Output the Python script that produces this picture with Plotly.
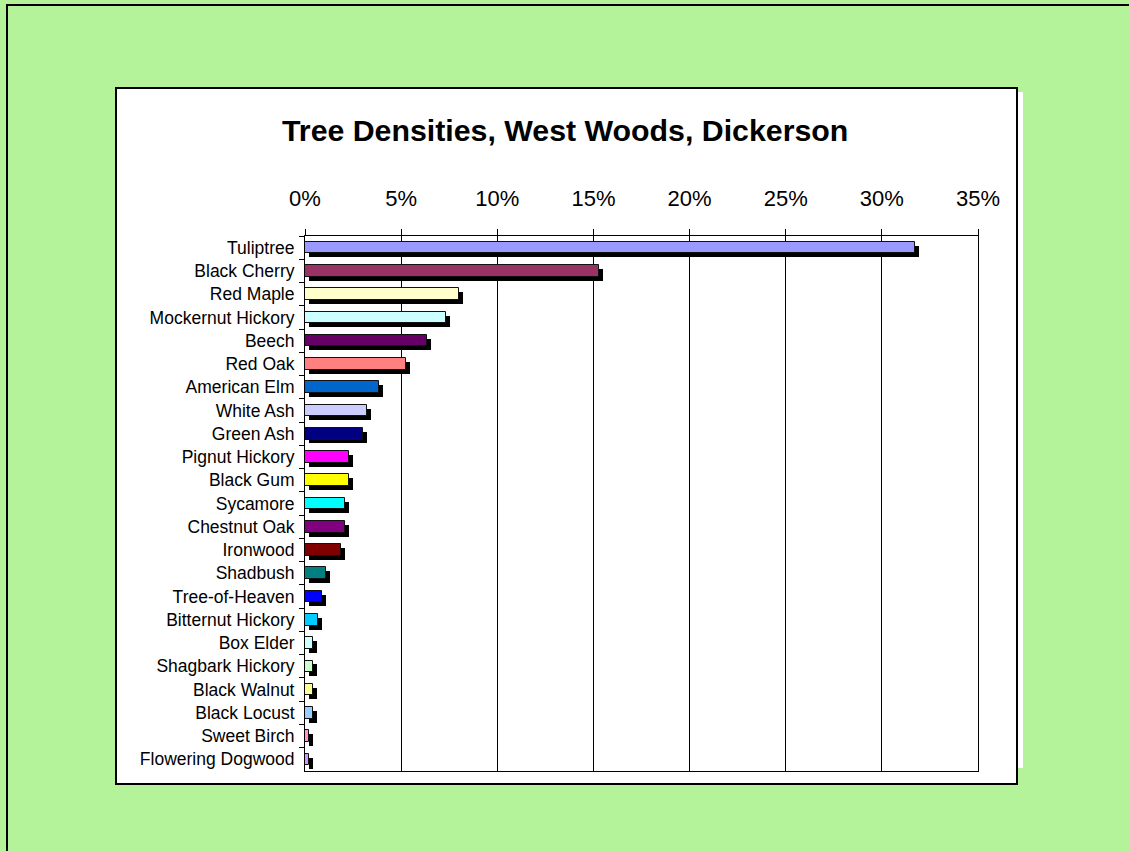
import plotly.graph_objects as go

# Species (top to bottom) and their share of all stems, in percent
species = [
    "Tuliptree", "Black Cherry", "Red Maple", "Mockernut Hickory", "Beech",
    "Red Oak", "American Elm", "White Ash", "Green Ash", "Pignut Hickory",
    "Black Gum", "Sycamore", "Chestnut Oak", "Ironwood", "Shadbush",
    "Tree-of-Heaven", "Bitternut Hickory", "Box Elder", "Shagbark Hickory",
    "Black Walnut", "Black Locust", "Sweet Birch", "Flowering Dogwood",
]
density_pct = [
    31.7, 15.3, 8.0, 7.32, 6.35,
    5.25, 3.87, 3.2, 3.0, 2.3,
    2.3, 2.06, 2.06, 1.85, 1.1,
    0.88, 0.66, 0.43, 0.43,
    0.43, 0.43, 0.2, 0.2,
]
bar_colors = [
    "#9999FF", "#993366", "#FFFFCC", "#CCFFFF", "#660066",
    "#FF8080", "#0066CC", "#CCCCFF", "#000080", "#FF00FF",
    "#FFFF00", "#00FFFF", "#800080", "#800000", "#008080",
    "#0000FF", "#00CCFF", "#CCFFFF", "#CCFFCC",
    "#FFFF99", "#99CCFF", "#FF99CC", "#CC99FF",
]
x_ticks = [0, 5, 10, 15, 20, 25, 30, 35]
x_tick_labels = ["0%", "5%", "10%", "15%", "20%", "25%", "30%", "35%"]

W, H = 1130, 852
PL, PR, PT, PB = 305, 978, 236, 771  # plot area in pixels


def px_x(px):
    return (px - PL) / (PR - PL)


def px_y(py):
    return (PB - py) / (PB - PT)


FONT = "Liberation Sans, Arial, sans-serif"
BAR_W = 0.5
SHADOW_DX = 0.21   # percent units (~4 px)
SHADOW_DY = 0.17   # category units (~4 px)

fig = go.Figure()

# drop shadow behind each bar
fig.add_trace(go.Bar(
    y=species, x=density_pct, base=SHADOW_DX, orientation="h",
    width=BAR_W, offset=-BAR_W / 2 + SHADOW_DY,
    marker=dict(color="black", line=dict(width=0)),
    hoverinfo="skip", showlegend=False,
))

# the bars
fig.add_trace(go.Bar(
    y=species, x=density_pct, orientation="h",
    width=BAR_W, offset=-BAR_W / 2,
    marker=dict(color=bar_colors, line=dict(color="#111111", width=1)),
    showlegend=False,
))

shapes = [
    # left and top edges of the green page frame, kept inside the page
    dict(type="path", xref="paper", yref="paper",
         path="M {} {} L {} {} L {} {}".format(
             px_x(7), px_y(H - 1), px_x(7), px_y(5), px_x(W - 1), px_y(5)),
         line=dict(color="black", width=2), layer="below"),
    # thin white strip peeking out at the right of the chart box
    dict(type="rect", xref="paper", yref="paper",
         x0=px_x(1015), x1=px_x(1023), y0=px_y(92), y1=px_y(768),
         line=dict(width=0), fillcolor="white", layer="below"),
    # white chart box
    dict(type="rect", xref="paper", yref="paper",
         x0=px_x(116), x1=px_x(1017), y0=px_y(88), y1=px_y(784),
         line=dict(color="black", width=2), fillcolor="white", layer="below"),
]

fig.update_layout(
    width=W, height=H,
    margin=dict(l=PL, r=W - PR, t=PT, b=H - PB, pad=0),
    paper_bgcolor="#B4F39A",
    plot_bgcolor="rgba(0,0,0,0)",
    barmode="overlay",
    bargap=0,
    font=dict(family=FONT, color="black"),
    shapes=shapes,
    annotations=[dict(
        text="<b>Tree Densities, West Woods, Dickerson</b>",
        xref="paper", yref="paper", x=px_x(565), y=px_y(130),
        xanchor="center", yanchor="middle", showarrow=False,
        font=dict(family=FONT, size=30.3, color="black"),
    )],
    xaxis=dict(
        side="top", range=[0, 35], tickmode="array",
        tickvals=x_ticks, ticktext=x_tick_labels,
        showgrid=True, gridcolor="black", gridwidth=1,
        showline=True, linecolor="black", linewidth=1, mirror=True,
        ticks="outside", ticklen=6, tickcolor="black", tickwidth=1,
        tickfont=dict(family=FONT, size=22, color="black"),
        ticklabelstandoff=14,
        zeroline=False, automargin=False, fixedrange=True,
    ),
    yaxis=dict(
        categoryorder="array", categoryarray=species, autorange="reversed",
        showgrid=False, showline=True, linecolor="black", linewidth=1, mirror=True,
        ticks="outside", ticklen=5, tickcolor="black", tickwidth=1,
        tickson="boundaries",
        tickfont=dict(family=FONT, size=17.5, color="black"),
        ticklabelstandoff=6,
        zeroline=False, automargin=False, fixedrange=True,
    ),
)

fig.write_html("out.html", config={"displayModeBar": False})
